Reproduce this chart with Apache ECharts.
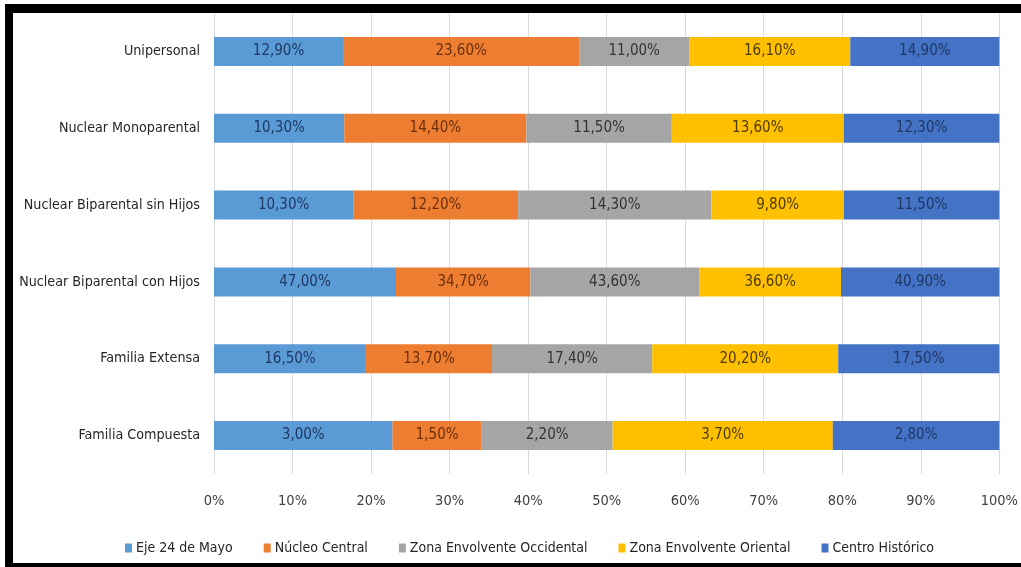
<!DOCTYPE html>
<html>
<head>
<meta charset="utf-8">
<script src="https://cdn.jsdelivr.net/npm/echarts@6/dist/echarts.min.js"></script>
<style>
  html, body { margin: 0; padding: 0; background: #fff; }
  #chart { width: 1021px; height: 567px; }
</style>
</head>
<body>
<div id="chart"></div>
<script>
// categorias (de arriba hacia abajo)
const categories = [
  'Unipersonal',
  'Nuclear Monoparental',
  'Nuclear Biparental sin Hijos',
  'Nuclear Biparental con Hijos',
  'Familia Extensa',
  'Familia Compuesta'
]
const seriesNames = [
  'Eje 24 de Mayo',
  'Núcleo Central',
  'Zona Envolvente Occidental',
  'Zona Envolvente Oriental',
  'Centro Histórico'
]
// valores originales (%) por zona
const eje24 = [12.9, 10.3, 10.3, 47.0, 16.5, 3.0]
const nucleoCentral = [23.6, 14.4, 12.2, 34.7, 13.7, 1.5]
const zonaOccidental = [11.0, 11.5, 14.3, 43.6, 17.4, 2.2]
const zonaOriental = [16.1, 13.6, 9.8, 36.6, 20.2, 3.7]
const centroHistorico = [14.9, 12.3, 11.5, 40.9, 17.5, 2.8]
const xTicks = ['0%', '10%', '20%', '30%', '40%', '50%', '60%', '70%', '80%', '90%', '100%']

const raw = [eje24, nucleoCentral, zonaOccidental, zonaOriental, centroHistorico]
const colors = ['#5B9BD5', '#ED7D31', '#A5A5A5', '#FFC000', '#4472C4']
const labelColors = ['#1F3864', '#6b2f0c', '#333333', '#4d3a00', '#1F3864']
const font = '"Liberation Sans Narrow", "DejaVu Sans Condensed", sans-serif'

// barras apiladas al 100%: cada fila se normaliza por su suma
const rowSums = categories.map((c, i) => raw.reduce((s, arr) => s + arr[i], 0))

const fmt = v => v.toFixed(2).replace('.', ',') + '%'

const series = raw.map((arr, k) => ({
  name: seriesNames[k],
  type: 'bar',
  stack: 'total',
  barWidth: 29,
  itemStyle: { color: colors[k] },
  label: {
    show: true,
    position: 'inside',
    color: labelColors[k],
    fontFamily: font,
    fontSize: 15,
    formatter: p => fmt(arr[p.dataIndex])
  },
  data: arr.map((v, i) => v / rowSums[i] * 100)
}))

const chart = echarts.init(document.getElementById('chart'))
chart.setOption({
  animation: false,
  backgroundColor: '#fff',
  textStyle: { fontFamily: font },
  grid: { left: 214, right: 17, top: 13, bottom: 93, containLabel: false },
  legend: {
    data: seriesNames,
    bottom: 7,
    left: 120,
    itemWidth: 7,
    itemHeight: 9,
    itemGap: 31,
    icon: 'rect',
    textStyle: { fontFamily: font, fontSize: 14, color: '#262626', padding: [0, 0, 0, -1] }
  },
  xAxis: {
    type: 'value',
    min: 0,
    max: 100,
    interval: 10,
    axisLine: { show: false },
    axisTick: { show: false },
    splitLine: { show: true, lineStyle: { color: '#D9D9D9', width: 1 } },
    axisLabel: {
      margin: 20,
      color: '#404040',
      fontFamily: font,
      fontSize: 14.5,
      formatter: v => xTicks[Math.round(v / 10)]
    }
  },
  yAxis: {
    type: 'category',
    data: categories,
    inverse: true,
    axisLine: { show: false },
    axisTick: { show: false },
    axisLabel: { margin: 14, color: '#262626', fontFamily: font, fontSize: 14.2 }
  },
  series: series,
  graphic: [
    { type: 'rect', shape: { x: 5, y: 4, width: 1016, height: 9 }, style: { fill: '#000' }, silent: true },
    { type: 'rect', shape: { x: 5, y: 4, width: 8, height: 563 }, style: { fill: '#000' }, silent: true },
    { type: 'rect', shape: { x: 5, y: 563, width: 1016, height: 4 }, style: { fill: '#000' }, silent: true }
  ]
})
</script>
</body>
</html>
